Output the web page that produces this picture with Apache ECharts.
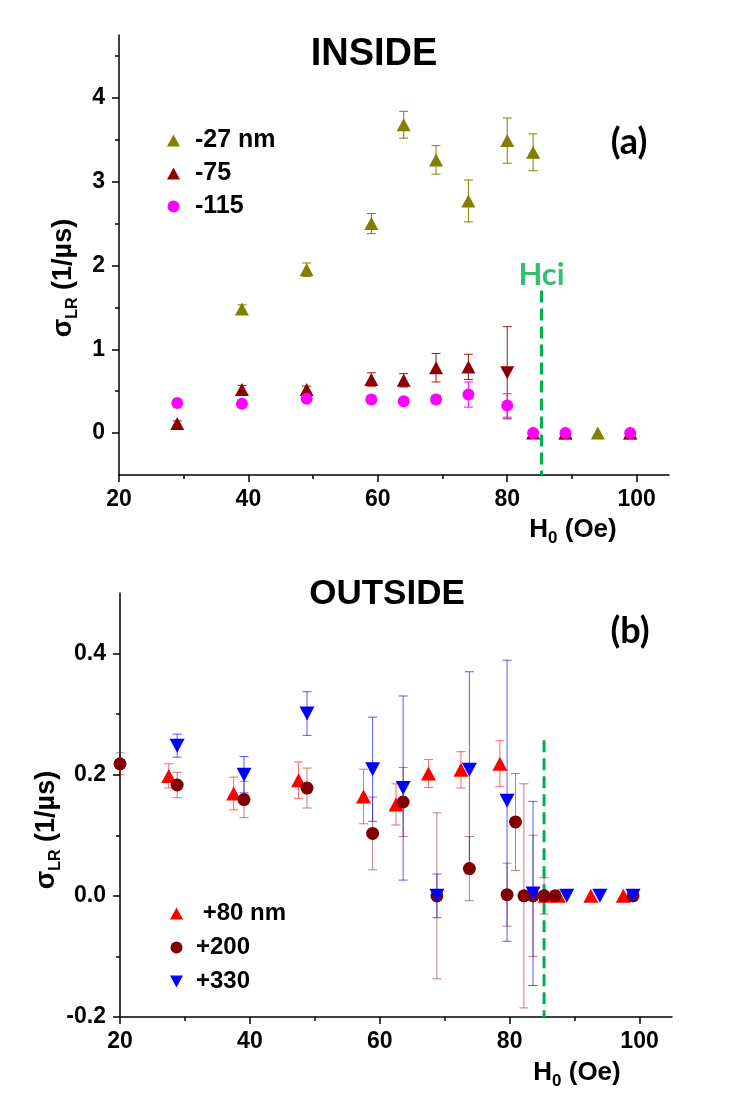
<!DOCTYPE html>
<html>
<head>
<meta charset="utf-8">
<script src="https://cdn.jsdelivr.net/npm/echarts@6/dist/echarts.min.js"></script>
<style>html,body{margin:0;padding:0;background:#fff;}#c{width:746px;height:1094px;}</style>
</head>
<body>
<div id="c"></div>
<script>
// ---------- Panel (a) INSIDE ----------
const m27X  = [39, 49, 59, 64, 69, 74, 80, 84, 89, 94, 99];
const m27Y  = [1.48, 1.95, 2.50, 3.68, 3.26, 2.77, 3.49, 3.35, 0, 0, 0];
const m27E  = [0.05, 0.08, 0.12, 0.16, 0.17, 0.25, 0.27, 0.22, 0, 0, 0];

const m75X  = [29, 39, 49, 59, 64, 69, 74, 80, 84, 89, 99];
const m75Y  = [0.115, 0.52, 0.52, 0.64, 0.63, 0.78, 0.79, 0.72, 0, 0, 0];
const m75E  = [0.03, 0.05, 0.04, 0.08, 0.08, 0.17, 0.15, 0.55, 0, 0, 0];
const m75DownAt = [80];   // this point is drawn as a down triangle in the original

const m115X = [29, 39, 49, 59, 64, 69, 74, 80, 84, 89, 99];
const m115Y = [0.36, 0.35, 0.41, 0.40, 0.38, 0.40, 0.46, 0.33, 0, 0, 0];
const m115E = [0, 0.02, 0.03, 0.04, 0.04, 0.05, 0.15, 0.14, 0, 0, 0];

// ---------- Panel (b) OUTSIDE ----------
const p80X  = [27.5, 37.5, 47.5, 57.5, 62.5, 67.5, 72.5, 78.5, 85.5, 87.5, 92.5, 97.5];
const p80Y  = [0.198, 0.169, 0.191, 0.164, 0.151, 0.202, 0.208, 0.218, 0, 0, 0, 0];
const p80E  = [0.02, 0.027, 0.03, 0.045, 0.034, 0.023, 0.03, 0.038, 0, 0, 0, 0];

const p200X = [20, 28.8, 39.1, 48.8, 58.9, 63.6, 68.8, 73.8, 79.6, 80.9, 82.2, 83.6, 85.3, 87, 99];
const p200Y = [0.218, 0.183, 0.159, 0.178, 0.103, 0.155, 0, 0.045, 0.002, 0.122, 0, 0, 0, 0, 0];
const p200E = [0.018, 0.021, 0.03, 0.033, 0.06, 0.057, 0.137, 0.053, 0.052, 0.08, 0.185, 0.1, 0.03, 0, 0];

const p330X = [28.8, 39.1, 48.8, 58.9, 63.6, 68.8, 73.8, 79.6, 83.6, 88.8, 93.9, 99];
const p330Y = [0.248, 0.2, 0.301, 0.209, 0.178, 0, 0.208, 0.157, 0.004, 0, 0, 0];
const p330E = [0.019, 0.03, 0.036, 0.086, 0.152, 0.036, 0.162, 0.232, 0.152, 0, 0, 0];

// Hci line
const hciX = 85.3;
const hciTopA = 1.7;
const hciTopB = 0.257;
const hciLabel = 'Hci';

// Axis ticks
const xMajor = [20, 40, 60, 80, 100];
const xMinor = [30, 50, 70, 90];
const yMajorA = [0, 1, 2, 3, 4];
const yMinorA = [0.5, 1.5, 2.5, 3.5, 4.5];
const yMajorB = [-0.2, 0, 0.2, 0.4];
const yMinorB = [-0.1, 0.1, 0.3];

const X_MIN = 20, X_MAX = 105;
const YA_MIN = -0.5, YA_MAX = 4.75;
const YB_MIN = -0.2, YB_MAX = 0.5;

const FONT = '"Liberation Sans", Arial, sans-serif';
const GREEN = '#00B04F';

function zip3(xs, ys, es) { return xs.map((x, i) => [x, ys[i], es[i]]); }

function errSeries(xs, ys, es, color, g) {
  return {
    type: 'custom', xAxisIndex: g * 2, yAxisIndex: g * 2, z: 1,
    encode: { x: 0, y: 1 },
    data: zip3(xs, ys, es),
    silent: true,
    renderItem: function (params, api) {
      const x = api.value(0), y = api.value(1), e = api.value(2);
      if (!e) return null;
      const t = api.coord([x, y + e]);
      const b = api.coord([x, y - e]);
      const w = 4.5;
      const st = { stroke: color, lineWidth: 1 };
      return {
        type: 'group',
        children: [
          { type: 'line', shape: { x1: t[0], y1: t[1], x2: b[0], y2: b[1] }, style: st },
          { type: 'line', shape: { x1: t[0] - w, y1: t[1], x2: t[0] + w, y2: t[1] }, style: st },
          { type: 'line', shape: { x1: b[0] - w, y1: b[1], x2: b[0] + w, y2: b[1] }, style: st }
        ]
      };
    }
  };
}

function scatter(name, xs, ys, color, symbol, size, rotate, g, downAt) {
  return {
    type: 'scatter', name: name, xAxisIndex: g * 2, yAxisIndex: g * 2, z: 3,
    symbol: symbol, symbolSize: size, symbolRotate: rotate,
    itemStyle: { color: color, opacity: 1 },
    data: xs.map((x, i) => {
      if (downAt && downAt.indexOf(x) >= 0) return { value: [x, ys[i]], symbolRotate: 180 };
      return [x, ys[i]];
    })
  };
}

function mainX(g) {
  return {
    type: 'value', gridIndex: g, min: X_MIN, max: X_MAX, position: 'bottom',
    axisLine: { show: true, onZero: false, lineStyle: { color: '#000', width: 1.5 } },
    axisTick: { show: true, inside: false, length: 7, customValues: xMajor, lineStyle: { color: '#000', width: 1.5 } },
    axisLabel: { show: true, customValues: xMajor, margin: 13, color: '#000', fontFamily: FONT, fontWeight: 'bold', fontSize: 23 },
    splitLine: { show: false }
  };
}
function minorX(g) {
  return {
    type: 'value', gridIndex: g, min: X_MIN, max: X_MAX, position: 'bottom',
    axisLine: { show: false, onZero: false },
    axisTick: { show: true, inside: false, length: 4, customValues: xMinor, lineStyle: { color: '#000', width: 1.5 } },
    axisLabel: { show: false },
    splitLine: { show: false }
  };
}
function mainY(g, min, max, major, fmt) {
  return {
    type: 'value', gridIndex: g, min: min, max: max, position: 'left',
    axisLine: { show: true, onZero: false, lineStyle: { color: '#000', width: 1.5 } },
    axisTick: { show: true, inside: false, length: 7, customValues: major, lineStyle: { color: '#000', width: 1.5 } },
    axisLabel: { show: true, customValues: major, margin: 14, color: '#000', fontFamily: FONT, fontWeight: 'bold', fontSize: 23, formatter: fmt },
    splitLine: { show: false }
  };
}
function minorY(g, min, max, minor) {
  return {
    type: 'value', gridIndex: g, min: min, max: max, position: 'left',
    axisLine: { show: false, onZero: false },
    axisTick: { show: true, inside: false, length: 4, customValues: minor, lineStyle: { color: '#000', width: 1.5 } },
    axisLabel: { show: false },
    splitLine: { show: false }
  };
}

function hciSeries(g, top, bottom) {
  return {
    type: 'line', xAxisIndex: g * 2, yAxisIndex: g * 2, z: 2, silent: true,
    symbol: 'none',
    lineStyle: { color: GREEN, width: 3, type: [12, 6] },
    data: [[hciX, top], [hciX, bottom]]
  };
}

// "Hci" label placed on the top end of the line through the axis scales
function hciLabelSeries(g, top) {
  return {
    type: 'scatter', xAxisIndex: g * 2, yAxisIndex: g * 2, z: 4, silent: true,
    symbol: 'circle', symbolSize: 1, itemStyle: { color: 'rgba(0,0,0,0)' },
    label: { show: true, position: 'top', distance: 0, formatter: hciLabel, color: GREEN, fontFamily: 'Lato, sans-serif', fontWeight: 'bold', fontSize: 31 },
    data: [[hciX, top]]
  };
}

const legendText = { color: '#000', fontFamily: FONT, fontWeight: 'bold', fontSize: 25, lineHeight: 25, padding: [0, 0, 0, 10] };
const downTriIcon = 'path://M0,0 L12,0 L6,11 Z';

const option = {
  animation: false,
  backgroundColor: '#fff',
  grid: [
    { left: 119, top: 35, width: 550, height: 440 },
    { left: 120, top: 593, width: 552, height: 424 }
  ],
  xAxis: [mainX(0), minorX(0), mainX(1), minorX(1)],
  yAxis: [
    mainY(0, YA_MIN, YA_MAX, yMajorA, v => String(Math.round(v))),
    minorY(0, YA_MIN, YA_MAX, yMinorA),
    mainY(1, YB_MIN, YB_MAX, yMajorB, v => v.toFixed(1)),
    minorY(1, YB_MIN, YB_MAX, yMinorB)
  ],
  legend: [
    {
      data: ['-27 nm', '-75', '-115'], orient: 'vertical', left: 162, top: 123,
      itemWidth: 13, itemHeight: 12, itemGap: 8, selectedMode: false, textStyle: legendText
    },
    {
      data: ['+80 nm', '+200', { name: '+330', icon: downTriIcon }], orient: 'vertical', left: 165, top: 896,
      itemWidth: 13, itemHeight: 12, itemGap: 9, selectedMode: false, textStyle: Object.assign({}, legendText, { fontSize: 24, padding: [0, 0, 0, 8] }),
      formatter: n => (n === '+80 nm' ? ' ' + n : n)
    }
  ],
  series: [
    errSeries(m27X, m27Y, m27E, '#808000', 0),
    errSeries(m75X, m75Y, m75E, '#A01818', 0),
    errSeries(m115X, m115Y, m115E, '#FF00FF', 0),
    hciSeries(0, hciTopA, YA_MIN),
    hciLabelSeries(0, hciTopA),
    scatter('-27 nm', m27X, m27Y, '#808000', 'triangle', [14, 13], 0, 0),
    scatter('-75', m75X, m75Y, '#8B0000', 'triangle', [14, 13], 0, 0, m75DownAt),
    scatter('-115', m115X, m115Y, '#FF00FF', 'circle', 12, 0, 0),

    errSeries(p80X, p80Y, p80E, 'rgba(255,0,0,0.6)', 1),
    errSeries(p200X, p200Y, p200E, 'rgba(128,0,0,0.5)', 1),
    errSeries(p330X, p330Y, p330E, 'rgba(0,0,255,0.65)', 1),
    hciSeries(1, hciTopB, YB_MIN),
    scatter('+80 nm', p80X, p80Y, '#FF0000', 'triangle', [15, 14], 0, 1),
    scatter('+200', p200X, p200Y, '#800000', 'circle', 13, 0, 1),
    scatter('+330', p330X, p330Y, '#0000FF', 'triangle', [15, 14], 180, 1)
  ],
  graphic: [
    { type: 'text', x: 374, y: 55, style: { text: 'INSIDE', font: 'bold 38px ' + FONT, fill: '#000', align: 'center', verticalAlign: 'middle' } },
    { type: 'text', x: 387, y: 594, style: { text: 'OUTSIDE', font: 'bold 35px ' + FONT, fill: '#000', align: 'center', verticalAlign: 'middle' } },
    { type: 'text', x: 629, y: 142, style: { text: '(a)', font: 'bold 36px Lato, sans-serif', fill: '#000', align: 'center', verticalAlign: 'middle' } },
    { type: 'text', x: 630, y: 631, style: { text: '(b)', font: 'bold 36px Lato, sans-serif', fill: '#000', align: 'center', verticalAlign: 'middle' } },
    {
      type: 'text', x: 64, y: 278, rotation: Math.PI / 2,
      style: {
        text: '{a|σ}{b|LR}{a| (1/µs)}', align: 'center', verticalAlign: 'middle', fill: '#000',
        rich: {
          a: { fontFamily: FONT, fontWeight: 'bold', fontSize: 27, lineHeight: 34, verticalAlign: 'middle' },
          b: { fontFamily: FONT, fontWeight: 'bold', fontSize: 16, lineHeight: 16, verticalAlign: 'bottom' }
        }
      }
    },
    {
      type: 'text', x: 47, y: 830, rotation: Math.PI / 2,
      style: {
        text: '{a|σ}{b|LR}{a| (1/µs)}', align: 'center', verticalAlign: 'middle', fill: '#000',
        rich: {
          a: { fontFamily: FONT, fontWeight: 'bold', fontSize: 27, lineHeight: 34, verticalAlign: 'middle' },
          b: { fontFamily: FONT, fontWeight: 'bold', fontSize: 16, lineHeight: 16, verticalAlign: 'bottom' }
        }
      }
    },
    {
      type: 'text', x: 573, y: 530,
      style: {
        text: '{a|H}{b|0}{a| (Oe)}', align: 'center', verticalAlign: 'middle', fill: '#000',
        rich: {
          a: { fontFamily: FONT, fontWeight: 'bold', fontSize: 26, lineHeight: 34, verticalAlign: 'middle' },
          b: { fontFamily: FONT, fontWeight: 'bold', fontSize: 17, lineHeight: 17, verticalAlign: 'bottom' }
        }
      }
    },
    {
      type: 'text', x: 577, y: 1073,
      style: {
        text: '{a|H}{b|0}{a| (Oe)}', align: 'center', verticalAlign: 'middle', fill: '#000',
        rich: {
          a: { fontFamily: FONT, fontWeight: 'bold', fontSize: 26, lineHeight: 34, verticalAlign: 'middle' },
          b: { fontFamily: FONT, fontWeight: 'bold', fontSize: 17, lineHeight: 17, verticalAlign: 'bottom' }
        }
      }
    }
  ]
};

const chart = echarts.init(document.getElementById('c'), null, { renderer: 'canvas' });
chart.setOption(option);
</script>
</body>
</html>
